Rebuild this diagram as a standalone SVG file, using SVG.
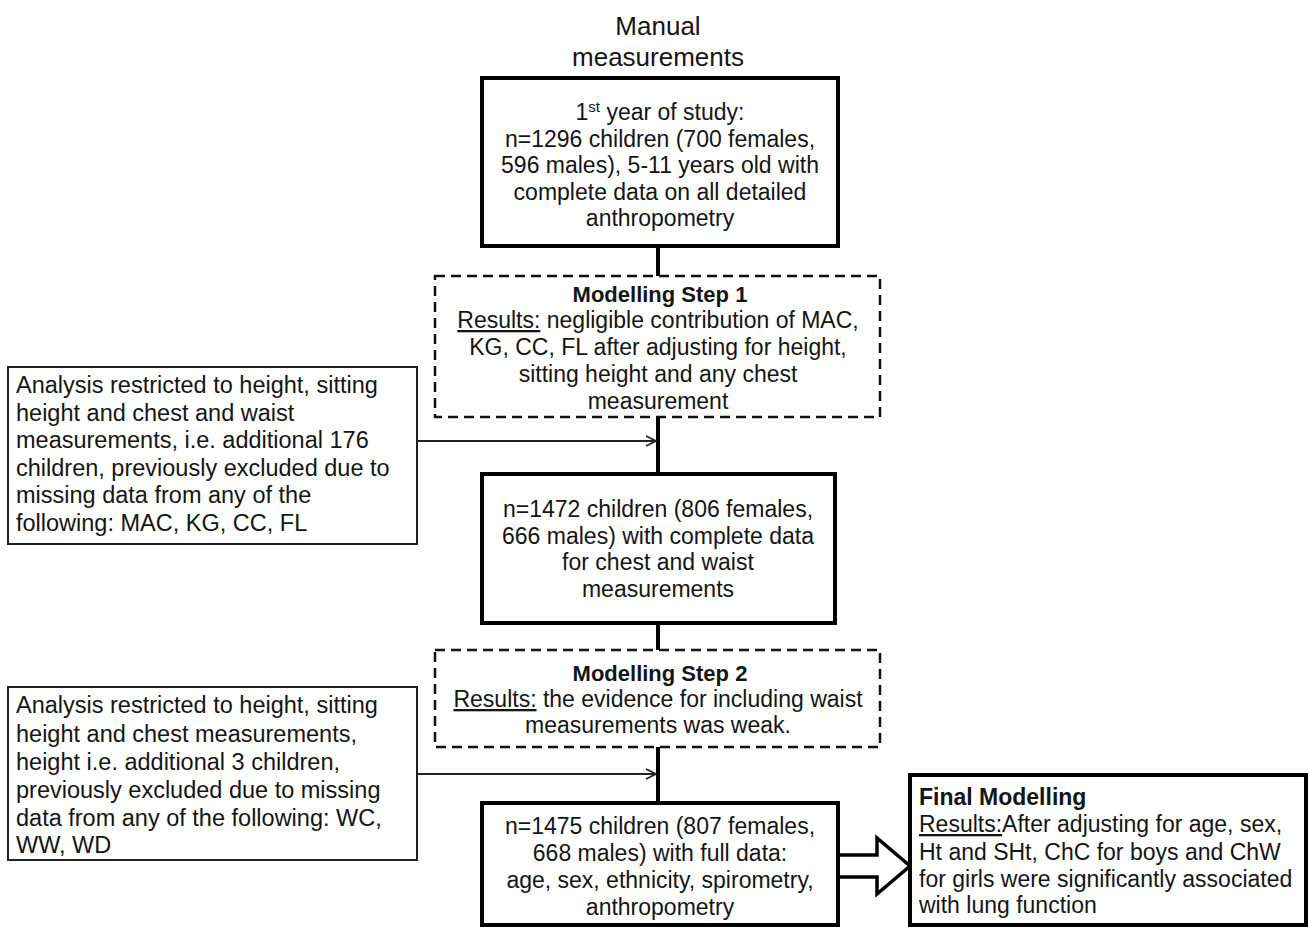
<svg xmlns="http://www.w3.org/2000/svg" width="1309" height="927" viewBox="0 0 1309 927">
<style>
  text { font-family: "Liberation Sans", Arial, sans-serif; font-size: 23px; fill: #151515; }
  .c { text-anchor: middle; }
  .b { font-weight: bold; }
  .hd { font-weight: bold; font-size: 22px; }
  .lt { font-size: 23.5px; }
  .u { text-decoration: underline; }
  .thick { fill: #fff; stroke: #000; stroke-width: 4; }
  .thin { fill: #fff; stroke: #222; stroke-width: 2; }
  .dash { fill: #fff; stroke: #111; stroke-width: 2.5; stroke-dasharray: 10 6; }
  .conn { stroke: #000; stroke-width: 4; fill: none; }
  .arr { stroke: #222; stroke-width: 1.8; fill: none; }
</style>
<defs>
  <marker id="chev" viewBox="0 0 12 12" refX="11" refY="6" markerWidth="12" markerHeight="12" markerUnits="userSpaceOnUse" orient="auto">
    <path d="M1,1 L11,6 L1,11" fill="none" stroke="#222" stroke-width="1.8"/>
  </marker>
</defs>

<g id="title">
  <text x="658" y="35" class="c" style="font-size:26px">Manual</text>
  <text x="658" y="66" class="c" style="font-size:26px">measurements</text>
</g>

<g id="connectors">
  <line class="conn" x1="658" y1="246" x2="658" y2="276"/>
  <line class="conn" x1="658" y1="417" x2="658" y2="474"/>
  <line class="conn" x1="658" y1="623" x2="658" y2="650"/>
  <line class="conn" x1="658" y1="747" x2="658" y2="803"/>
  <line class="arr" x1="417" y1="441" x2="656" y2="441" marker-end="url(#chev)"/>
  <line class="arr" x1="417" y1="774" x2="656" y2="774" marker-end="url(#chev)"/>
  <path d="M838,855 L877,855 L877,838 L910,866 L877,894 L877,877 L838,877" fill="#fff" stroke="#000" stroke-width="3.5" stroke-linejoin="miter"/>
</g>

<g id="box1">
  <rect class="thick" x="482" y="78" width="356" height="168"/>
  <text x="660" y="120" class="c">1<tspan style="font-size:15px" dy="-8">st</tspan><tspan dy="8"> year of study:</tspan></text>
  <text x="660" y="147" class="c">n=1296 children (700 females,</text>
  <text x="660" y="173" class="c">596 males), 5-11 years old with</text>
  <text x="660" y="200" class="c">complete data on all detailed</text>
  <text x="660" y="226" class="c">anthropometry</text>
</g>

<g id="step1">
  <rect class="dash" x="435" y="276" width="445" height="141"/>
  <text x="660" y="302" class="c hd">Modelling Step 1</text>
  <text x="658" y="328" class="c"><tspan class="u">Results:</tspan> negligible contribution of MAC,</text>
  <text x="658" y="355" class="c">KG, CC, FL after adjusting for height,</text>
  <text x="658" y="382" class="c">sitting height and any chest</text>
  <text x="658" y="409" class="c">measurement</text>
</g>

<g id="left1">
  <rect class="thin" x="8" y="367" width="409" height="177"/>
  <text x="16" y="393" class="lt">Analysis restricted to height, sitting</text>
  <text x="16" y="421" class="lt">height and chest and waist</text>
  <text x="16" y="448" class="lt">measurements, i.e. additional 176</text>
  <text x="16" y="476" class="lt">children, previously excluded due to</text>
  <text x="16" y="503" class="lt">missing data from any of the</text>
  <text x="16" y="531" class="lt">following: MAC, KG, CC, FL</text>
</g>

<g id="box2">
  <rect class="thick" x="482" y="474" width="353" height="149"/>
  <text x="658" y="517" class="c">n=1472 children (806 females,</text>
  <text x="658" y="544" class="c">666 males) with complete data</text>
  <text x="658" y="570" class="c">for chest and waist</text>
  <text x="658" y="597" class="c">measurements</text>
</g>

<g id="step2">
  <rect class="dash" x="435" y="650" width="445" height="97"/>
  <text x="660" y="681" class="c hd">Modelling Step 2</text>
  <text x="658" y="707" class="c"><tspan class="u">Results:</tspan> the evidence for including waist</text>
  <text x="658" y="733" class="c">measurements was weak.</text>
</g>

<g id="left2">
  <rect class="thin" x="8" y="687" width="409" height="173"/>
  <text x="16" y="713" class="lt">Analysis restricted to height, sitting</text>
  <text x="16" y="742" class="lt">height and chest measurements,</text>
  <text x="16" y="770" class="lt">height i.e. additional 3 children,</text>
  <text x="16" y="798" class="lt">previously excluded due to missing</text>
  <text x="16" y="826" class="lt">data from any of the following: WC,</text>
  <text x="16" y="853" class="lt">WW, WD</text>
</g>

<g id="box3">
  <rect class="thick" x="482" y="803" width="356" height="122"/>
  <text x="660" y="834" class="c">n=1475 children (807 females,</text>
  <text x="660" y="861" class="c">668 males) with full data:</text>
  <text x="660" y="888" class="c">age, sex, ethnicity, spirometry,</text>
  <text x="660" y="915" class="c">anthropometry</text>
</g>

<g id="final">
  <rect class="thick" x="910" y="775" width="396" height="150"/>
  <text x="919" y="805" class="b">Final Modelling</text>
  <text x="919" y="832"><tspan class="u">Results:</tspan>After adjusting for age, sex,</text>
  <text x="919" y="860">Ht and SHt, ChC for boys and ChW</text>
  <text x="919" y="887">for girls were significantly associated</text>
  <text x="919" y="913">with lung function</text>
</g>
</svg>
